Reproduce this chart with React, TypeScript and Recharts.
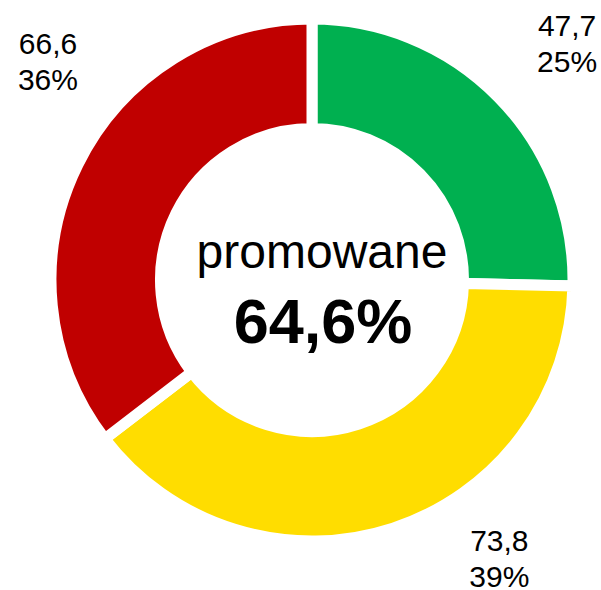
import { PieChart, Pie, Cell } from "recharts"

const categories = ["zielone", "żółte", "czerwone"]
const values = [47.7, 73.8, 66.6]
const percentLabels = ["25%", "39%", "36%"]
const colors = ["#00B050", "#FFDD00", "#C00000"]
const centerTitle = "promowane"
const centerValue = "64,6%"

const data = categories.map((name, i) => ({
  name,
  value: values[i],
  pct: percentLabels[i],
}))

// label placement: angle shift (deg, counter-clockwise) and radius from centre
const labelShift = [
  { da: -1.5, r: 348 },
  { da: 15.8, r: 336 },
  { da: -13.4, r: 343 },
]

const RAD = Math.PI / 180
const FONT = "'Liberation Sans', Arial, sans-serif"

function renderLabel(props: any) {
  const { cx, cy, midAngle, index, payload } = props
  const s = labelShift[index]
  const a = (midAngle + s.da) * RAD
  const x = cx + s.r * Math.cos(-a)
  const y = cy + s.r * Math.sin(-a)
  const v = String(payload.value).replace(".", ",")
  return (
    <g fontFamily={FONT} fill="#000">
      <text x={x} y={y} textAnchor="middle" fontSize={30}>
        <tspan x={x} y={y - 7.5}>{v}</tspan>
        <tspan x={x} y={y + 28.5}>{payload.pct}</tspan>
      </text>
      {index === 0 && (
        <>
          <text x={cx + 10} y={cy - 12} textAnchor="middle" fontSize={48}>
            {centerTitle}
          </text>
          <text
            x={cx + 11}
            y={cy + 63}
            textAnchor="middle"
            fontSize={63}
            fontWeight="bold"
          >
            {centerValue}
          </text>
        </>
      )}
    </g>
  )
}

export default function App() {
  return (
    <div style={{ position: "absolute", left: 0, top: 0, background: "#fff" }}>
      <PieChart width={601} height={590} margin={{ top: 0, right: 0, bottom: 0, left: 0 }}>
        <Pie
          data={data}
          dataKey="value"
          cx={312}
          cy={280}
          startAngle={90}
          endAngle={-270}
          outerRadius={261}
          innerRadius={151.5}
          stroke="#fff"
          strokeWidth={11}
          label={renderLabel}
          labelLine={false}
          isAnimationActive={false}
        >
          {data.map((d, i) => (
            <Cell key={d.name} fill={colors[i]} />
          ))}
        </Pie>
      </PieChart>
    </div>
  )
}
